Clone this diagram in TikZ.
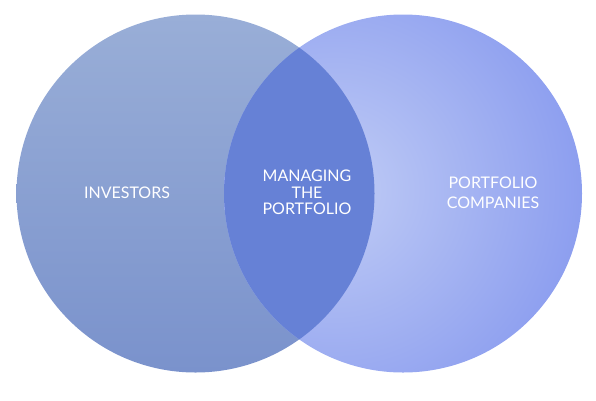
\documentclass[tikz,border=0pt]{standalone}
\usepackage{fontspec}
\setmainfont{Lato}
\definecolor{invtop}{HTML}{99AED7}
\definecolor{invbot}{HTML}{7A92CC}
\definecolor{comlight}{HTML}{C0CCF5}
\definecolor{comdark}{HTML}{8A9CEF}
\definecolor{overlap}{HTML}{6681D6}
\tikzset{settext/.style={text=white, align=center, font=\fontsize{16}{16.7}\selectfont}}
\newcommand{\rad}{179}

\begin{document}
\begin{tikzpicture}[x=1pt,y=-1pt]
	\useasboundingbox (0,0) rectangle (596,400);
	\coordinate (inv) at (195.5,193.5);
	\coordinate (com) at (403,193.5);
	% investors
	\shade[top color=invtop, bottom color=invbot] (inv) circle (\rad);
	% portfolio companies
	\begin{scope}
		\clip (com) circle (\rad);
		\shade[inner color=comlight, outer color=comdark] (335,190) circle (260);
	\end{scope}
	% overlap
	\begin{scope}
		\clip (inv) circle (\rad);
		\fill[overlap] (com) circle (\rad);
	\end{scope}
	% labels
	\node[settext] (investors) at (127,192.3) {INVESTORS};
	\node[settext] (managing) at (307,192.5) {MANAGING\\THE\\PORTFOLIO};
	\node[settext, font=\fontsize{16}{20}\selectfont] (companies) at (493,192.3) {PORTFOLIO\\COMPANIES};
\end{tikzpicture}
\end{document}
